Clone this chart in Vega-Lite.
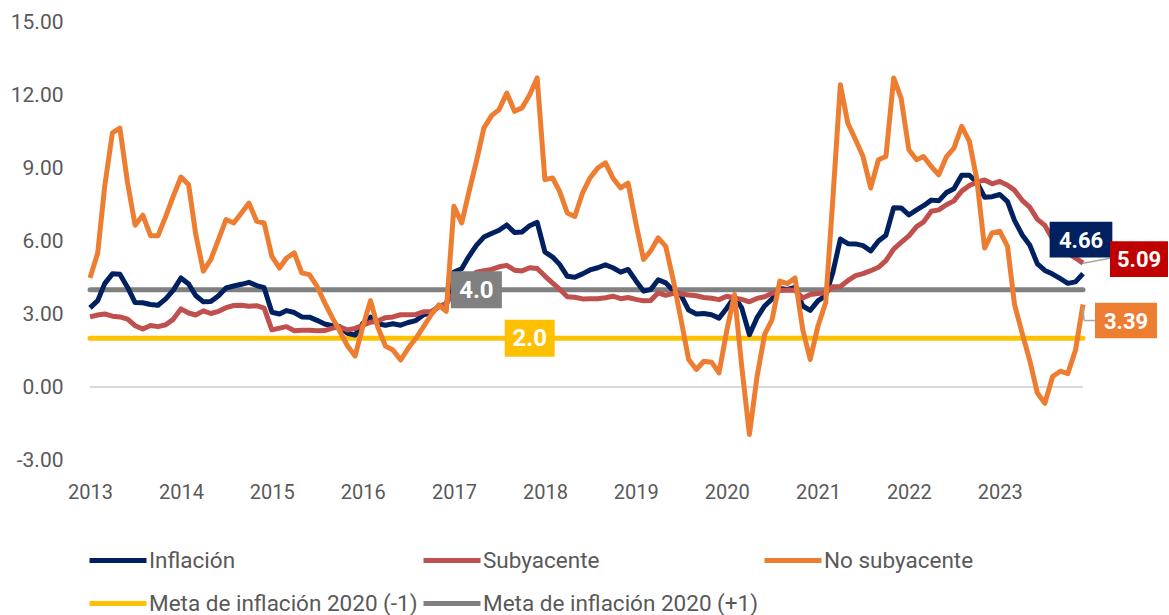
{
  "$schema": "https://vega.github.io/schema/vega-lite/v6.json",
  "width": 993,
  "height": 438,
  "autosize": "none",
  "padding": {"left": 90, "top": 22, "right": 86, "bottom": 155},
  "background": "white",
  "config": {"view": {"stroke": null}, "font": "Roboto"},
  "data": {"values": [
      {"fecha":"2013-01-01","Inflación":3.25,"Subyacente":2.88,"No subyacente":4.48},
      {"fecha":"2013-02-01","Inflación":3.55,"Subyacente":2.96,"No subyacente":5.51},
      {"fecha":"2013-03-01","Inflación":4.25,"Subyacente":3.00,"No subyacente":8.25},
      {"fecha":"2013-04-01","Inflación":4.65,"Subyacente":2.91,"No subyacente":10.44},
      {"fecha":"2013-05-01","Inflación":4.63,"Subyacente":2.88,"No subyacente":10.64},
      {"fecha":"2013-06-01","Inflación":4.09,"Subyacente":2.79,"No subyacente":8.38},
      {"fecha":"2013-07-01","Inflación":3.47,"Subyacente":2.52,"No subyacente":6.65},
      {"fecha":"2013-08-01","Inflación":3.46,"Subyacente":2.38,"No subyacente":7.06},
      {"fecha":"2013-09-01","Inflación":3.39,"Subyacente":2.53,"No subyacente":6.22},
      {"fecha":"2013-10-01","Inflación":3.36,"Subyacente":2.48,"No subyacente":6.22},
      {"fecha":"2013-11-01","Inflación":3.62,"Subyacente":2.56,"No subyacente":7.01},
      {"fecha":"2013-12-01","Inflación":3.97,"Subyacente":2.78,"No subyacente":7.83},
      {"fecha":"2014-01-01","Inflación":4.48,"Subyacente":3.21,"No subyacente":8.63},
      {"fecha":"2014-02-01","Inflación":4.23,"Subyacente":3.04,"No subyacente":8.31},
      {"fecha":"2014-03-01","Inflación":3.76,"Subyacente":2.96,"No subyacente":6.30},
      {"fecha":"2014-04-01","Inflación":3.50,"Subyacente":3.13,"No subyacente":4.76},
      {"fecha":"2014-05-01","Inflación":3.51,"Subyacente":3.02,"No subyacente":5.24},
      {"fecha":"2014-06-01","Inflación":3.75,"Subyacente":3.11,"No subyacente":6.07},
      {"fecha":"2014-07-01","Inflación":4.07,"Subyacente":3.26,"No subyacente":6.88},
      {"fecha":"2014-08-01","Inflación":4.15,"Subyacente":3.35,"No subyacente":6.74},
      {"fecha":"2014-09-01","Inflación":4.22,"Subyacente":3.36,"No subyacente":7.15},
      {"fecha":"2014-10-01","Inflación":4.30,"Subyacente":3.32,"No subyacente":7.56},
      {"fecha":"2014-11-01","Inflación":4.17,"Subyacente":3.34,"No subyacente":6.81},
      {"fecha":"2014-12-01","Inflación":4.08,"Subyacente":3.24,"No subyacente":6.74},
      {"fecha":"2015-01-01","Inflación":3.07,"Subyacente":2.35,"No subyacente":5.37},
      {"fecha":"2015-02-01","Inflación":3.00,"Subyacente":2.42,"No subyacente":4.89},
      {"fecha":"2015-03-01","Inflación":3.14,"Subyacente":2.48,"No subyacente":5.30},
      {"fecha":"2015-04-01","Inflación":3.06,"Subyacente":2.31,"No subyacente":5.51},
      {"fecha":"2015-05-01","Inflación":2.88,"Subyacente":2.33,"No subyacente":4.69},
      {"fecha":"2015-06-01","Inflación":2.87,"Subyacente":2.33,"No subyacente":4.62},
      {"fecha":"2015-07-01","Inflación":2.74,"Subyacente":2.31,"No subyacente":4.14},
      {"fecha":"2015-08-01","Inflación":2.59,"Subyacente":2.32,"No subyacente":3.47},
      {"fecha":"2015-09-01","Inflación":2.52,"Subyacente":2.42,"No subyacente":2.84},
      {"fecha":"2015-10-01","Inflación":2.48,"Subyacente":2.47,"No subyacente":2.29},
      {"fecha":"2015-11-01","Inflación":2.21,"Subyacente":2.34,"No subyacente":1.68},
      {"fecha":"2015-12-01","Inflación":2.13,"Subyacente":2.41,"No subyacente":1.27},
      {"fecha":"2016-01-01","Inflación":2.61,"Subyacente":2.54,"No subyacente":2.48},
      {"fecha":"2016-02-01","Inflación":2.87,"Subyacente":2.66,"No subyacente":3.55},
      {"fecha":"2016-03-01","Inflación":2.60,"Subyacente":2.71,"No subyacente":2.47},
      {"fecha":"2016-04-01","Inflación":2.54,"Subyacente":2.85,"No subyacente":1.68},
      {"fecha":"2016-05-01","Inflación":2.60,"Subyacente":2.88,"No subyacente":1.52},
      {"fecha":"2016-06-01","Inflación":2.54,"Subyacente":2.97,"No subyacente":1.11},
      {"fecha":"2016-07-01","Inflación":2.65,"Subyacente":2.97,"No subyacente":1.59},
      {"fecha":"2016-08-01","Inflación":2.73,"Subyacente":2.98,"No subyacente":2.00},
      {"fecha":"2016-09-01","Inflación":2.97,"Subyacente":3.09,"No subyacente":2.48},
      {"fecha":"2016-10-01","Inflación":3.06,"Subyacente":3.10,"No subyacente":2.96},
      {"fecha":"2016-11-01","Inflación":3.31,"Subyacente":3.29,"No subyacente":3.37},
      {"fecha":"2016-12-01","Inflación":3.36,"Subyacente":3.44,"No subyacente":3.11},
      {"fecha":"2017-01-01","Inflación":4.72,"Subyacente":3.85,"No subyacente":7.43},
      {"fecha":"2017-02-01","Inflación":4.86,"Subyacente":4.26,"No subyacente":6.74},
      {"fecha":"2017-03-01","Inflación":5.35,"Subyacente":4.48,"No subyacente":7.97},
      {"fecha":"2017-04-01","Inflación":5.82,"Subyacente":4.72,"No subyacente":9.27},
      {"fecha":"2017-05-01","Inflación":6.16,"Subyacente":4.78,"No subyacente":10.64},
      {"fecha":"2017-06-01","Inflación":6.31,"Subyacente":4.83,"No subyacente":11.15},
      {"fecha":"2017-07-01","Inflación":6.44,"Subyacente":4.94,"No subyacente":11.40},
      {"fecha":"2017-08-01","Inflación":6.66,"Subyacente":5.00,"No subyacente":12.08},
      {"fecha":"2017-09-01","Inflación":6.35,"Subyacente":4.80,"No subyacente":11.33},
      {"fecha":"2017-10-01","Inflación":6.37,"Subyacente":4.77,"No subyacente":11.47},
      {"fecha":"2017-11-01","Inflación":6.63,"Subyacente":4.90,"No subyacente":12.01},
      {"fecha":"2017-12-01","Inflación":6.77,"Subyacente":4.87,"No subyacente":12.70},
      {"fecha":"2018-01-01","Inflación":5.55,"Subyacente":4.56,"No subyacente":8.52},
      {"fecha":"2018-02-01","Inflación":5.34,"Subyacente":4.27,"No subyacente":8.59},
      {"fecha":"2018-03-01","Inflación":5.04,"Subyacente":4.02,"No subyacente":8.04},
      {"fecha":"2018-04-01","Inflación":4.55,"Subyacente":3.71,"No subyacente":7.15},
      {"fecha":"2018-05-01","Inflación":4.51,"Subyacente":3.69,"No subyacente":7.01},
      {"fecha":"2018-06-01","Inflación":4.65,"Subyacente":3.62,"No subyacente":7.97},
      {"fecha":"2018-07-01","Inflación":4.81,"Subyacente":3.63,"No subyacente":8.59},
      {"fecha":"2018-08-01","Inflación":4.90,"Subyacente":3.63,"No subyacente":9.00},
      {"fecha":"2018-09-01","Inflación":5.02,"Subyacente":3.67,"No subyacente":9.21},
      {"fecha":"2018-10-01","Inflación":4.90,"Subyacente":3.73,"No subyacente":8.59},
      {"fecha":"2018-11-01","Inflación":4.72,"Subyacente":3.63,"No subyacente":8.18},
      {"fecha":"2018-12-01","Inflación":4.83,"Subyacente":3.68,"No subyacente":8.38},
      {"fecha":"2019-01-01","Inflación":4.37,"Subyacente":3.60,"No subyacente":6.74},
      {"fecha":"2019-02-01","Inflación":3.94,"Subyacente":3.54,"No subyacente":5.24},
      {"fecha":"2019-03-01","Inflación":4.00,"Subyacente":3.55,"No subyacente":5.58},
      {"fecha":"2019-04-01","Inflación":4.41,"Subyacente":3.87,"No subyacente":6.13},
      {"fecha":"2019-05-01","Inflación":4.28,"Subyacente":3.77,"No subyacente":5.78},
      {"fecha":"2019-06-01","Inflación":3.95,"Subyacente":3.85,"No subyacente":4.36},
      {"fecha":"2019-07-01","Inflación":3.78,"Subyacente":3.82,"No subyacente":2.79},
      {"fecha":"2019-08-01","Inflación":3.16,"Subyacente":3.78,"No subyacente":1.13},
      {"fecha":"2019-09-01","Inflación":3.00,"Subyacente":3.75,"No subyacente":0.72},
      {"fecha":"2019-10-01","Inflación":3.02,"Subyacente":3.68,"No subyacente":1.06},
      {"fecha":"2019-11-01","Inflación":2.97,"Subyacente":3.65,"No subyacente":1.02},
      {"fecha":"2019-12-01","Inflación":2.83,"Subyacente":3.59,"No subyacente":0.58},
      {"fecha":"2020-01-01","Inflación":3.24,"Subyacente":3.73,"No subyacente":2.31},
      {"fecha":"2020-02-01","Inflación":3.70,"Subyacente":3.66,"No subyacente":3.80},
      {"fecha":"2020-03-01","Inflación":3.25,"Subyacente":3.60,"No subyacente":0.85},
      {"fecha":"2020-04-01","Inflación":2.15,"Subyacente":3.50,"No subyacente":-1.95},
      {"fecha":"2020-05-01","Inflación":2.84,"Subyacente":3.64,"No subyacente":0.39},
      {"fecha":"2020-06-01","Inflación":3.33,"Subyacente":3.71,"No subyacente":2.16},
      {"fecha":"2020-07-01","Inflación":3.62,"Subyacente":3.85,"No subyacente":2.77},
      {"fecha":"2020-08-01","Inflación":4.05,"Subyacente":3.97,"No subyacente":4.35},
      {"fecha":"2020-09-01","Inflación":4.01,"Subyacente":3.99,"No subyacente":4.25},
      {"fecha":"2020-10-01","Inflación":4.09,"Subyacente":3.98,"No subyacente":4.48},
      {"fecha":"2020-11-01","Inflación":3.33,"Subyacente":3.66,"No subyacente":2.36},
      {"fecha":"2020-12-01","Inflación":3.15,"Subyacente":3.80,"No subyacente":1.13},
      {"fecha":"2021-01-01","Inflación":3.54,"Subyacente":3.84,"No subyacente":2.50},
      {"fecha":"2021-02-01","Inflación":3.76,"Subyacente":3.87,"No subyacente":3.46},
      {"fecha":"2021-03-01","Inflación":4.67,"Subyacente":4.12,"No subyacente":7.60},
      {"fecha":"2021-04-01","Inflación":6.08,"Subyacente":4.13,"No subyacente":12.42},
      {"fecha":"2021-05-01","Inflación":5.89,"Subyacente":4.37,"No subyacente":10.84},
      {"fecha":"2021-06-01","Inflación":5.88,"Subyacente":4.58,"No subyacente":10.16},
      {"fecha":"2021-07-01","Inflación":5.81,"Subyacente":4.66,"No subyacente":9.47},
      {"fecha":"2021-08-01","Inflación":5.59,"Subyacente":4.78,"No subyacente":8.18},
      {"fecha":"2021-09-01","Inflación":6.00,"Subyacente":4.92,"No subyacente":9.34},
      {"fecha":"2021-10-01","Inflación":6.24,"Subyacente":5.19,"No subyacente":9.47},
      {"fecha":"2021-11-01","Inflación":7.37,"Subyacente":5.67,"No subyacente":12.70},
      {"fecha":"2021-12-01","Inflación":7.36,"Subyacente":5.94,"No subyacente":11.86},
      {"fecha":"2022-01-01","Inflación":7.07,"Subyacente":6.21,"No subyacente":9.75},
      {"fecha":"2022-02-01","Inflación":7.28,"Subyacente":6.59,"No subyacente":9.34},
      {"fecha":"2022-03-01","Inflación":7.45,"Subyacente":6.78,"No subyacente":9.47},
      {"fecha":"2022-04-01","Inflación":7.68,"Subyacente":7.22,"No subyacente":9.06},
      {"fecha":"2022-05-01","Inflación":7.65,"Subyacente":7.28,"No subyacente":8.72},
      {"fecha":"2022-06-01","Inflación":7.99,"Subyacente":7.49,"No subyacente":9.47},
      {"fecha":"2022-07-01","Inflación":8.15,"Subyacente":7.65,"No subyacente":9.82},
      {"fecha":"2022-08-01","Inflación":8.70,"Subyacente":8.05,"No subyacente":10.71},
      {"fecha":"2022-09-01","Inflación":8.70,"Subyacente":8.28,"No subyacente":10.09},
      {"fecha":"2022-10-01","Inflación":8.41,"Subyacente":8.42,"No subyacente":8.52},
      {"fecha":"2022-11-01","Inflación":7.80,"Subyacente":8.51,"No subyacente":5.71},
      {"fecha":"2022-12-01","Inflación":7.82,"Subyacente":8.35,"No subyacente":6.33},
      {"fecha":"2023-01-01","Inflación":7.91,"Subyacente":8.45,"No subyacente":6.40},
      {"fecha":"2023-02-01","Inflación":7.62,"Subyacente":8.29,"No subyacente":5.78},
      {"fecha":"2023-03-01","Inflación":6.85,"Subyacente":8.09,"No subyacente":3.40},
      {"fecha":"2023-04-01","Inflación":6.25,"Subyacente":7.67,"No subyacente":2.20},
      {"fecha":"2023-05-01","Inflación":5.84,"Subyacente":7.39,"No subyacente":1.10},
      {"fecha":"2023-06-01","Inflación":5.06,"Subyacente":6.89,"No subyacente":-0.25},
      {"fecha":"2023-07-01","Inflación":4.79,"Subyacente":6.64,"No subyacente":-0.67},
      {"fecha":"2023-08-01","Inflación":4.64,"Subyacente":6.08,"No subyacente":0.43},
      {"fecha":"2023-09-01","Inflación":4.45,"Subyacente":5.76,"No subyacente":0.65},
      {"fecha":"2023-10-01","Inflación":4.26,"Subyacente":5.50,"No subyacente":0.55},
      {"fecha":"2023-11-01","Inflación":4.32,"Subyacente":5.30,"No subyacente":1.52},
      {"fecha":"2023-12-01","Inflación":4.66,"Subyacente":5.09,"No subyacente":3.39}
  ]},
  "layer": [
    {
      "data": {"values": [{"cero": 0}]},
      "mark": {"type": "rule", "color": "#D9D9D9", "strokeWidth": 2},
      "encoding": {
        "y": {"field": "cero", "type": "quantitative", "scale": {"domain": [-3, 15], "nice": false}}
      }
    },
    {
      "data": {"values": [
        {"serie":"Meta de inflación 2020 (-1)","valor":2},
        {"serie":"Meta de inflación 2020 (+1)","valor":4}
      ]},
      "mark": {"type": "rule", "strokeWidth": 5, "strokeCap": "round"},
      "encoding": {
        "y": {"field": "valor", "type": "quantitative"},
        "color": {"field": "serie", "type": "nominal"}
      }
    },
    {
      "transform": [{"fold": ["Inflación","Subyacente","No subyacente"], "as": ["serie","valor"]}],
      "mark": {"type": "line", "strokeWidth": 5, "strokeJoin": "round"},
      "encoding": {
        "x": {"field": "fecha", "type": "temporal",
          "scale": {"type": "utc", "domain": [{"year":2013,"month":1,"date":1,"utc":true},{"year":2023,"month":12,"date":1,"utc":true}]},
          "axis": {"title": null, "format": "%Y", "domain": false, "ticks": false, "grid": false,
            "values": [{"year":2013,"month":1,"date":1,"utc":true},{"year":2014,"month":1,"date":1,"utc":true},{"year":2015,"month":1,"date":1,"utc":true},{"year":2016,"month":1,"date":1,"utc":true},{"year":2017,"month":1,"date":1,"utc":true},{"year":2018,"month":1,"date":1,"utc":true},{"year":2019,"month":1,"date":1,"utc":true},{"year":2020,"month":1,"date":1,"utc":true},{"year":2021,"month":1,"date":1,"utc":true},{"year":2022,"month":1,"date":1,"utc":true},{"year":2023,"month":1,"date":1,"utc":true}],
            "labelFont": "Roboto", "labelFontSize": 20, "labelColor": "#595959", "labelPadding": 22, "labelFlush": false, "labelOverlap": false}},
        "y": {"field": "valor", "type": "quantitative", "scale": {"domain": [-3, 15], "nice": false},
          "axis": {"title": null, "values": [-3,0,3,6,9,12,15], "labelExpr": "replace(format(datum.value, '.2f'), '\u2212', '-')",
            "domain": false, "ticks": false, "grid": false, "labelFont": "Roboto", "labelFontSize": 21, "labelColor": "#595959", "labelPadding": 27}},
        "color": {"field": "serie", "type": "nominal",
          "scale": {"domain": ["Inflación","Subyacente","No subyacente","Meta de inflación 2020 (-1)","Meta de inflación 2020 (+1)"],
                    "range": ["#002060","#C0504D","#ED7D31","#FFC000","#808080"]},
          "legend": {"title": null, "orient": "none", "direction": "horizontal", "legendX": -3, "legendY": 517, "columns": 3,
            "symbolType": "stroke", "symbolSize": 3249, "symbolStrokeWidth": 5,
            "labelFont": "Roboto", "labelFontSize": 22.5, "labelColor": "#595959", "labelOffset": 0, "labelLimit": 400,
            "clipHeight": 43, "columnPadding": 3, "rowPadding": 0, "padding": 0, "symbolOffset": 0}}
      }
    },
    {
      "data": {"values": [{"etiqueta": "4.0", "valor": 4, "fecha": "2017-04-01"}]},
      "layer": [
        {"mark": {"type": "point", "shape": "M-1,-0.725H1V0.725H-1Z", "filled": true, "fill": "#808080", "opacity": 1, "size": 2601, "strokeWidth": 0}},
        {"mark": {"type": "text", "font": "Roboto", "fontWeight": "bold", "fontSize": 24, "color": "white", "align": "center", "baseline": "middle", "dy": 1},
         "encoding": {"text": {"field": "etiqueta"}}}
      ],
      "encoding": {
        "x": {"field": "fecha", "type": "temporal"},
        "y": {"field": "valor", "type": "quantitative"}
      }
    },
    {
      "data": {"values": [{"etiqueta": "2.0", "valor": 2, "fecha": "2017-11-01"}]},
      "layer": [
        {"mark": {"type": "point", "shape": "M-1,-0.74H1V0.74H-1Z", "filled": true, "fill": "#FFC000", "opacity": 1, "size": 2500, "strokeWidth": 0}},
        {"mark": {"type": "text", "font": "Roboto", "fontWeight": "bold", "fontSize": 24, "color": "white", "align": "center", "baseline": "middle", "dy": 1},
         "encoding": {"text": {"field": "etiqueta"}}}
      ],
      "encoding": {
        "x": {"field": "fecha", "type": "temporal"},
        "y": {"field": "valor", "type": "quantitative"}
      }
    },
    {
      "transform": [
        {"filter": "utcyear(datum.fecha) == 2023 && utcmonth(datum.fecha) == 11"},
        {"fold": ["Inflación","Subyacente","No subyacente"], "as": ["serie","valor"]}
      ],
      "encoding": {
        "x": {"field": "fecha", "type": "temporal"},
        "y": {"field": "valor", "type": "quantitative"}
      },
      "layer": [
        {
          "transform": [{"filter": "datum.serie == 'Subyacente'"}],
          "mark": {"type": "rule", "color": "#A6A6A6", "strokeWidth": 1.5, "x2Offset": 27, "y2Offset": -5},
          "encoding": {"x2": {"field": "fecha"}, "y2": {"field": "valor"}}
        },
        {
          "transform": [{"filter": "datum.serie == 'No subyacente'"}],
          "mark": {"type": "rule", "color": "#A6A6A6", "strokeWidth": 1.5, "yOffset": 2, "y2Offset": 16, "x2Offset": 1},
          "encoding": {"x2": {"field": "fecha"}, "y2": {"field": "valor"}}
        },
        {
          "transform": [{"filter": "datum.serie == 'No subyacente'"}],
          "mark": {"type": "rule", "color": "#A6A6A6", "strokeWidth": 1.5, "xOffset": 1, "x2Offset": 14, "yOffset": 16, "y2Offset": 16},
          "encoding": {"x2": {"field": "fecha"}, "y2": {"field": "valor"}}
        },
        {
          "transform": [{"filter": "datum.serie == 'Inflación'"}],
          "mark": {"type": "point", "shape": "M-1,-0.57H1V0.57H-1Z", "filled": true, "fill": "#002060", "opacity": 1, "size": 3931, "strokeWidth": 0, "xOffset": -2, "yOffset": -34}
        },
        {
          "transform": [{"filter": "datum.serie == 'Inflación'"}],
          "mark": {"type": "text", "font": "Roboto", "fontWeight": "bold", "fontSize": 22, "color": "white", "align": "center", "baseline": "middle", "dx": -2, "dy": -33},
          "encoding": {"text": {"field": "valor", "type": "quantitative", "format": ".2f"}}
        },
        {
          "transform": [{"filter": "datum.serie == 'Subyacente'"}],
          "mark": {"type": "point", "shape": "M-1,-0.614H1V0.614H-1Z", "filled": true, "fill": "#C00000", "opacity": 1, "size": 3364, "strokeWidth": 0, "xOffset": 56, "yOffset": -4}
        },
        {
          "transform": [{"filter": "datum.serie == 'Subyacente'"}],
          "mark": {"type": "text", "font": "Roboto", "fontWeight": "bold", "fontSize": 22, "color": "white", "align": "center", "baseline": "middle", "dx": 56, "dy": -3},
          "encoding": {"text": {"field": "valor", "type": "quantitative", "format": ".2f"}}
        },
        {
          "transform": [{"filter": "datum.serie == 'No subyacente'"}],
          "mark": {"type": "point", "shape": "M-1,-0.574H1V0.574H-1Z", "filled": true, "fill": "#ED7D31", "opacity": 1, "size": 3844, "strokeWidth": 0, "xOffset": 43, "yOffset": 16}
        },
        {
          "transform": [{"filter": "datum.serie == 'No subyacente'"}],
          "mark": {"type": "text", "font": "Roboto", "fontWeight": "bold", "fontSize": 22, "color": "white", "align": "center", "baseline": "middle", "dx": 43, "dy": 17},
          "encoding": {"text": {"field": "valor", "type": "quantitative", "format": ".2f"}}
        }
      ]
    }
  ]
}
